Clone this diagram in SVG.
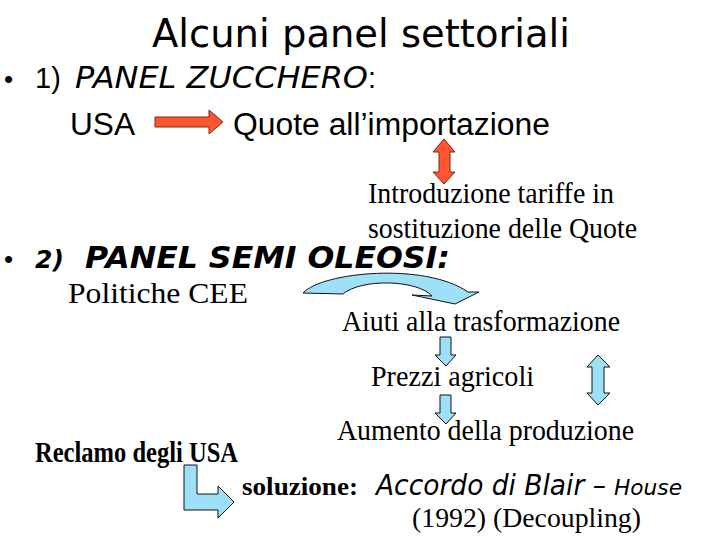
<svg xmlns="http://www.w3.org/2000/svg" width="720" height="540" viewBox="0 0 720 540">
<style>
.ar{font-family:"Liberation Sans",Arial,sans-serif;fill:#000}
.tm{font-family:"Liberation Serif","Times New Roman",serif;fill:#000}
.cm{font-family:"DejaVu Sans",sans-serif;fill:#000}
.red{fill:#ff5530;stroke:#7a2a10;stroke-width:1}
.blue{fill:#9de0f8;stroke:#111;stroke-width:1}
</style>
<rect width="720" height="540" fill="#fff"/>
<g id="title"><text class="cm" x="152" y="47" font-size="39" textLength="418" lengthAdjust="spacingAndGlyphs">Alcuni panel settoriali</text></g>
<g id="heading1">
<text class="ar" x="4" y="88" font-size="26">•</text>
<text class="ar" x="35" y="88" font-size="29">1)</text>
<text class="cm" x="75" y="88" font-size="31" font-style="italic" textLength="293" lengthAdjust="spacingAndGlyphs">PANEL ZUCCHERO</text>
<text class="ar" x="368" y="88" font-size="29">:</text>
</g>
<g id="n-usa"><text class="ar" x="70" y="135" font-size="31" textLength="65" lengthAdjust="spacingAndGlyphs">USA</text></g>
<g id="n-quote"><text class="ar" x="233" y="135" font-size="31" textLength="317" lengthAdjust="spacingAndGlyphs">Quote all’importazione</text></g>
<g id="n-tariffe">
<text class="tm" x="368" y="203" font-size="30" textLength="246" lengthAdjust="spacingAndGlyphs">Introduzione tariffe in</text>
<text class="tm" x="368" y="238" font-size="30" textLength="269" lengthAdjust="spacingAndGlyphs">sostituzione delle Quote</text>
</g>
<g id="heading2">
<text class="ar" x="4" y="268" font-size="26">•</text>
<text class="cm" x="35" y="268" font-size="25" font-style="italic" font-weight="bold">2)</text>
<text class="cm" x="85" y="268" font-size="31" font-style="italic" font-weight="bold" textLength="365" lengthAdjust="spacingAndGlyphs">PANEL SEMI OLEOSI:</text>
</g>
<g id="n-politiche"><text class="tm" x="68" y="303" font-size="30" textLength="180" lengthAdjust="spacingAndGlyphs">Politiche CEE</text></g>
<g id="n-aiuti"><text class="tm" x="342" y="331" font-size="30" textLength="278" lengthAdjust="spacingAndGlyphs">Aiuti alla trasformazione</text></g>
<g id="n-prezzi"><text class="tm" x="371" y="386" font-size="30" textLength="163" lengthAdjust="spacingAndGlyphs">Prezzi agricoli</text></g>
<g id="n-aumento"><text class="tm" x="337" y="440" font-size="30" textLength="297" lengthAdjust="spacingAndGlyphs">Aumento della produzione</text></g>
<g id="n-reclamo"><text class="tm" x="35" y="462" font-size="29" font-weight="bold" textLength="203" lengthAdjust="spacingAndGlyphs">Reclamo degli USA</text></g>
<g id="n-soluzione">
<text class="tm" x="242" y="495" font-size="26" font-weight="bold" textLength="116" lengthAdjust="spacingAndGlyphs">soluzione:</text>
<text class="cm" x="376" y="495" font-size="28" font-style="italic" textLength="230" lengthAdjust="spacingAndGlyphs">Accordo di Blair –</text>
<text class="cm" x="614" y="495" font-size="22" font-style="italic" textLength="68" lengthAdjust="spacingAndGlyphs">House</text>
<text class="tm" x="412" y="527" font-size="28" textLength="229" lengthAdjust="spacingAndGlyphs">(1992) (Decoupling)</text>
</g>
<g id="connectors">
<path class="red" d="M155,117 H209 V110 L223,122 L209,134 V127 H155 Z"/>
<path class="red" d="M444,139 L455,152 H450 V172 H455 L444,184 L433,172 H439 V152 H433 Z"/>
<path class="blue" d="M303,293 C322,272 425,262 468,292 L479,292 L455,304 L412,295 L432,296 C418,280 362,278 343,294 Z"/>
<path class="blue" d="M440,337 H451 V355 H456 L446,366 L435,355 H440 Z"/>
<path class="blue" d="M440,395 H451 V413 H456 L446,424 L435,413 H440 Z"/>
<path class="blue" d="M598,355 L610,367 H604 V393 H610 L598,405 L587,393 H592 V367 H587 Z"/>
<path class="blue" d="M184,465 H197 V494 H218 V486 L234,502 L218,518 V510 H184 Z"/>
</g>
</svg>
